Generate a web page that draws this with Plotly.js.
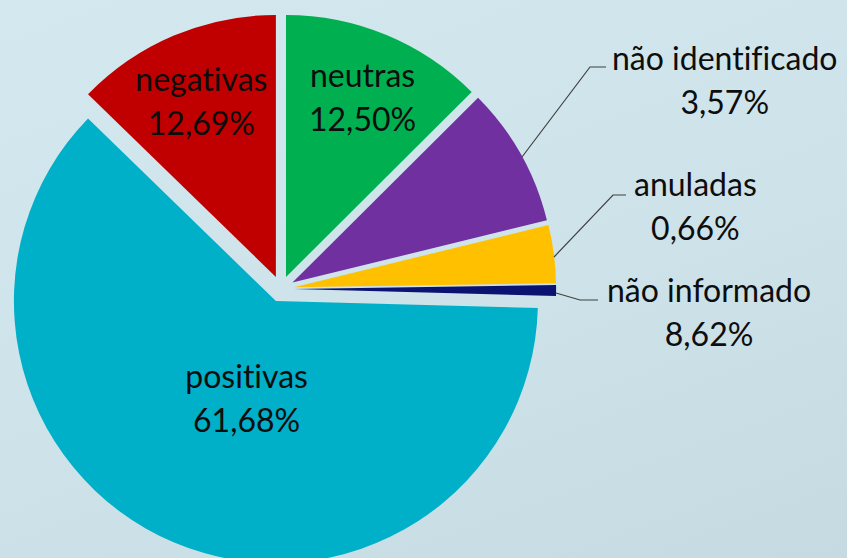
<!DOCTYPE html>
<html>
<head>
<meta charset="utf-8">
<script src="https://cdn.plot.ly/plotly-3.0.1.min.js"></script>
<style>
  html, body { margin: 0; padding: 0; width: 847px; height: 558px; overflow: hidden;
    background: linear-gradient(160deg, #d4e9ef 0%, #cde2e9 55%, #c5dae1 100%); }
  #chart { width: 847px; height: 580px; }
  #chart text { font-variant-ligatures: none; font-feature-settings: "liga" 0, "dlig" 0, "clig" 0; }
</style>
</head>
<body>
<div id="chart"></div>
<script>
// ---- data (as shown in the picture) ----
const labels  = ['neutras', 'não identificado', 'anuladas', 'não informado', 'positivas', 'negativas'];
const values  = [12.50, 8.62, 3.57, 0.66, 61.68, 12.69];
const pctText = ['12,50%', '3,57%', '0,66%', '8,62%', '61,68%', '12,69%'];
const colors  = ['#00B050', '#7030A0', '#FFC000', '#0A1470', '#00AFC8', '#C00000'];

// ---- layout helpers ----
const W = 847, H = 580;
const px = (x) => x / W;
const py = (y) => 1 - y / H;

// label block centres (pixels) and leader lines for the small slices
const labelPos = [[362, 96], [725, 79], [695, 206], [709, 311], [246, 397], [201, 101]];
const leaders = {
  1: [[522, 157], [590, 67], [606, 67]],
  2: [[554, 257], [613, 195], [626, 195]],
  3: [[556, 293], [580, 300], [598, 300]]
};

const cx = 281, cy = 289, R = 262, pull = 0.05;
const half = R * (1 + pull);

const trace = {
  type: 'pie',
  values: values,
  labels: labels,
  sort: false,
  direction: 'clockwise',
  rotation: 0,
  pull: values.map(() => pull),
  marker: { colors: colors, line: { width: 0 } },
  textinfo: 'none',
  hoverinfo: 'skip',
  showlegend: false,
  domain: { x: [px(cx - half), px(cx + half)], y: [py(cy + half), py(cy - half)] }
};

const annotations = labels.map((lab, i) => ({
  xref: 'paper', yref: 'paper',
  x: px(labelPos[i][0]), y: py(labelPos[i][1]),
  xanchor: 'center', yanchor: 'middle',
  showarrow: false,
  align: 'center',
  text: '<span style="font-size:32px">' + lab + '</span><br><span style="font-size:32px">' + pctText[i] + '</span>',
  font: { family: 'Lato, "Open Sans", sans-serif', size: 34, color: '#0d0d0d' }
}));

const shapes = Object.keys(leaders).map(k => ({
  type: 'path', xref: 'paper', yref: 'paper',
  path: leaders[k].map((p, j) => (j ? 'L' : 'M') + px(p[0]) + ',' + py(p[1])).join(' '),
  line: { color: '#404040', width: 1.2 }
}));

const layout = {
  width: W, height: H,
  margin: { l: 0, r: 0, t: 0, b: 0 },
  paper_bgcolor: 'rgba(0,0,0,0)',
  plot_bgcolor: 'rgba(0,0,0,0)',
  annotations: annotations,
  shapes: shapes
};

Plotly.newPlot('chart', [trace], layout, { displayModeBar: false, staticPlot: true });
</script>
</body>
</html>
